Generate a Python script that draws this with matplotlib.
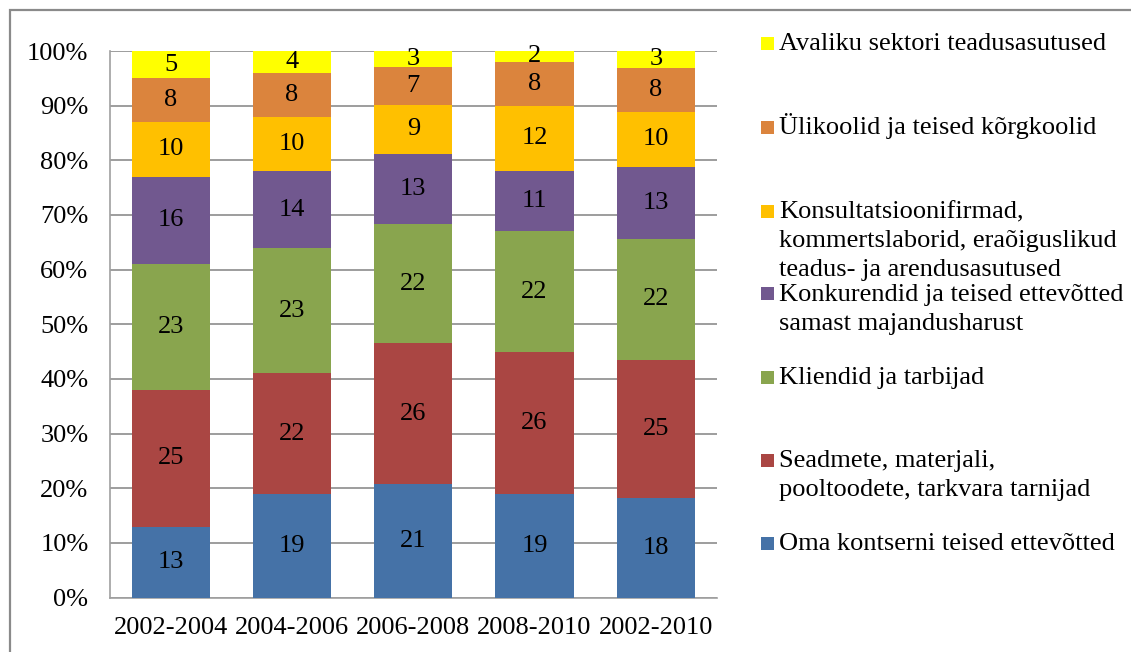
#!/usr/bin/env python3
"""
100% stacked bar chart: sources of innovation cooperation partners by period
"""

import numpy as np
import matplotlib
matplotlib.use('Agg')
import matplotlib.pyplot as plt
import matplotlib.patches as mpatches

# Data (shares, %)
periods = ['2002-2004', '2004-2006', '2006-2008', '2008-2010', '2002-2010']
oma_kontsern = [13, 19, 21, 19, 18]
seadmete_tarnijad = [25, 22, 26, 26, 25]
kliendid = [23, 23, 22, 22, 22]
konkurendid = [16, 14, 13, 11, 13]
konsultatsioon = [10, 10, 9, 12, 10]
ylikoolid = [8, 8, 7, 8, 8]
avalik_sektor = [5, 4, 3, 2, 3]

series_names = [
    'Oma kontserni teised ettevõtted',
    'Seadmete, materjali,\npooltoodete, tarkvara tarnijad',
    'Kliendid ja tarbijad',
    'Konkurendid ja teised ettevõtted\nsamast majandusharust',
    'Konsultatsioonifirmad,\nkommertslaborid, eraõiguslikud\nteadus- ja arendusasutused',
    'Ülikoolid ja teised kõrgkoolid',
    'Avaliku sektori teadusasutused',
]
series_values = [oma_kontsern, seadmete_tarnijad, kliendid, konkurendid,
                 konsultatsioon, ylikoolid, avalik_sektor]
series_colors = ['#4572A7', '#AA4643', '#89A54E', '#71588F',
                 '#FFC000', '#DB843D', '#FFFF00']

W, H = 1131, 652
FS = 19
plt.rcParams['font.family'] = ['Liberation Serif', 'DejaVu Serif']

fig = plt.figure(figsize=(W / 100, H / 100), dpi=100)
fig.patch.set_facecolor('white')

# plot area in pixel coordinates
left, right, top, bottom = 110, 716.5, 51, 597.6
ax = fig.add_axes([left / W, 1 - bottom / H, (right - left) / W, (bottom - top) / H])

vals = np.array(series_values, dtype=float)
totals = vals.sum(axis=0)
pct = vals / totals * 100

x = np.arange(len(periods))
bar_w = 0.645
base = np.zeros(len(periods))
for raw, p, color in zip(vals, pct, series_colors):
    ax.bar(x, p, bar_w, bottom=base, color=color, edgecolor='none', zorder=3)
    for xi, b, h, v in zip(x, base, p, raw):
        ax.text(xi, b + h / 2, f'{int(v)}', ha='center', va='center',
                fontsize=FS, color='black', zorder=4)
    base += p

ax.set_xlim(-0.5, len(periods) - 0.5)
ax.set_ylim(0, 100)
ax.set_yticks(np.arange(0, 101, 10))
ax.set_yticklabels([f'{v}%' for v in range(0, 101, 10)])
ax.set_xticks(x)
ax.set_xticklabels(periods)
ax.tick_params(axis='y', length=0, pad=15.5, labelsize=FS)
ax.tick_params(axis='x', length=0, pad=14, labelsize=FS)
ax.yaxis.grid(True, color='#8c8c8c', linewidth=1.2, zorder=0)
for side in ['top', 'right']:
    ax.spines[side].set_visible(False)
for side in ['left', 'bottom']:
    ax.spines[side].set_color('#a0a0a0')
    ax.spines[side].set_linewidth(1.2)

# Legend drawn by hand (reverse order, fixed spacing like the original)
legend_y = [43, 127, 211, 294, 377, 460, 543]
line_step = 29
for name, color, ly in zip(series_names[::-1], series_colors[::-1], legend_y):
    fig.add_artist(mpatches.Rectangle((761 / W, 1 - (ly + 6.5) / H), 12.5 / W, 13 / H,
                                      transform=fig.transFigure, facecolor=color,
                                      edgecolor='none'))
    for k, line in enumerate(name.split('\n')):
        fig.text(779 / W, 1 - (ly + 7 + k * line_step) / H, line, ha='left',
                 va='baseline', fontsize=FS, color='black')

# Outer chart border (only top and left edges are inside the picture)
fig.add_artist(mpatches.Rectangle((10 / W, -0.1), 2.0, 1.1 - 10 / H,
                                  transform=fig.transFigure, facecolor='none',
                                  edgecolor='#8a8a8a', linewidth=1.6))

fig.savefig('out.png', dpi=100, facecolor='white')
print("Saved: out.png")
